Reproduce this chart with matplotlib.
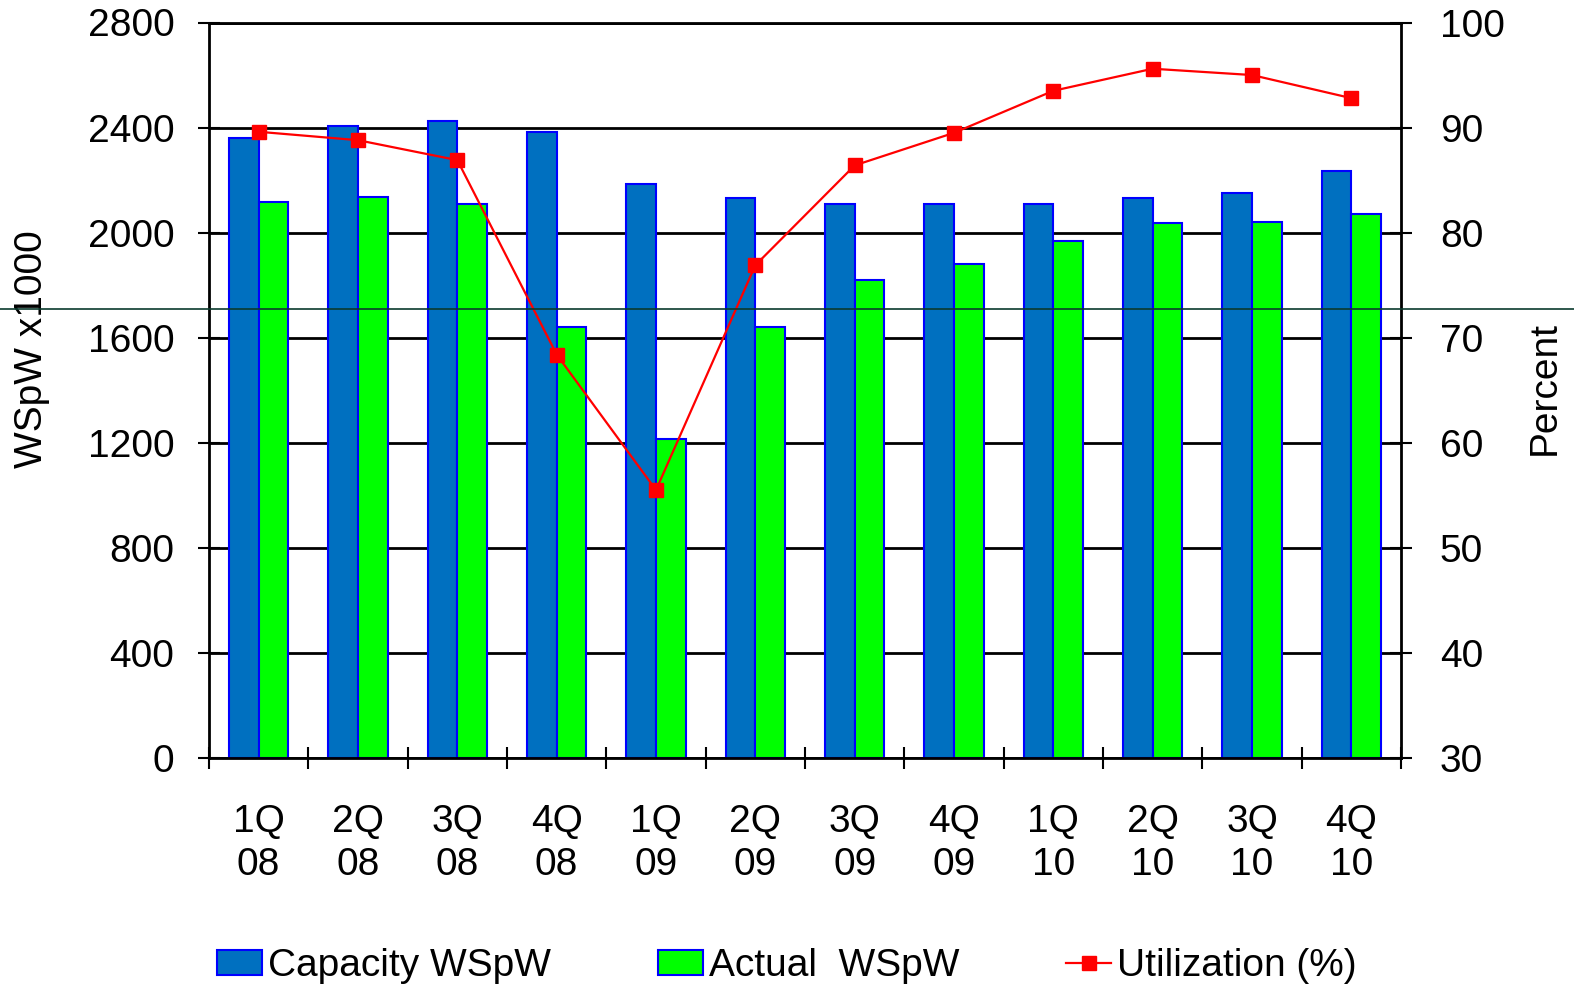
import matplotlib
matplotlib.use("Agg")
import matplotlib.pyplot as plt
from matplotlib.lines import Line2D
import numpy as np

plt.rcParams['font.family'] = ['Liberation Sans', 'DejaVu Sans']

quarters = ["1Q\n08", "2Q\n08", "3Q\n08", "4Q\n08",
            "1Q\n09", "2Q\n09", "3Q\n09", "4Q\n09",
            "1Q\n10", "2Q\n10", "3Q\n10", "4Q\n10"]
capacity_wspw = [2360, 2405, 2425, 2385, 2185, 2130, 2110, 2110, 2110, 2130, 2150, 2235]
actual_wspw = [2115, 2135, 2110, 1640, 1215, 1640, 1820, 1880, 1970, 2035, 2040, 2070]
utilization_pct = [89.6, 88.8, 86.9, 68.4, 55.5, 76.9, 86.4, 89.5, 93.5, 95.6, 95.0, 92.8]

FS = 28
fig = plt.figure(figsize=(15.74, 9.86), dpi=100)
ax = fig.add_axes([209 / 1574, 1 - 758 / 986, (1401 - 209) / 1574, (758 - 22.5) / 986])

x = np.arange(len(quarters))
w = 0.3
ax.bar(x - w / 2, capacity_wspw, width=w, color="#0070C0", edgecolor="#0000FF",
       linewidth=1.5, label="Capacity WSpW", zorder=2)
ax.bar(x + w / 2, actual_wspw, width=w, color="#00FF00", edgecolor="#0000FF",
       linewidth=1.5, label="Actual  WSpW", zorder=2)

ax.set_xlim(-0.5, len(quarters) - 0.5)
ax.set_ylim(0, 2800)
ax.set_yticks(np.arange(0, 2801, 400))
ax.set_axisbelow(True)
ax.yaxis.grid(True, color="black", linewidth=2)
ax.axhline(2800, color="black", linewidth=2, clip_on=False, zorder=1)
ax.set_xticks(x)
ax.set_xticklabels(quarters, fontsize=FS, linespacing=1.25)
ax.set_xticks(np.arange(-0.5, len(quarters), 1), minor=True)
ax.tick_params(axis="x", which="major", length=0, pad=33)
ax.tick_params(axis="x", which="minor", direction="inout", length=16, width=1.5)
ax.tick_params(axis="y", direction="inout", length=16, width=1.5, labelsize=FS, pad=17)
for s in ["left", "bottom", "right"]:
    ax.spines[s].set_linewidth(2)
ax.spines["top"].set_visible(False)

ax2 = ax.twinx()
ax2.plot(x, utilization_pct, color="#FF0000", linewidth=1.6, marker="s",
         markersize=9.5, label="Utilization (%)", zorder=3)
ax2.set_ylim(30, 100)
ax2.set_yticks(np.arange(30, 101, 10))
ax2.tick_params(axis="y", direction="inout", length=16, width=1.5, labelsize=FS, pad=20)
for s in ["left", "bottom", "right", "top"]:
    ax2.spines[s].set_visible(False)

fig.text(32 / 1574, 1 - 349 / 986, "WSpW x1000", rotation=90, fontsize=FS,
         ha="center", va="center")
fig.text(1545 / 1574, 1 - 388 / 986, "Percent", rotation=90, fontsize=FS,
         ha="center", va="center")

h1, l1 = ax.get_legend_handles_labels()
h2, l2 = ax2.get_legend_handles_labels()
fig.legend(h1 + h2, l1 + l2, loc="center", bbox_to_anchor=(0.5, 20 / 986), ncol=3,
           frameon=False, fontsize=FS, handlelength=1.15, handleheight=0.6,
           handletextpad=0.16, columnspacing=2.75)

fig.add_artist(Line2D([0, 1], [1 - 309 / 986, 1 - 309 / 986], transform=fig.transFigure,
                      color="#0B3B2E", linewidth=1.2, zorder=10))

fig.savefig("out.png", dpi=100)
